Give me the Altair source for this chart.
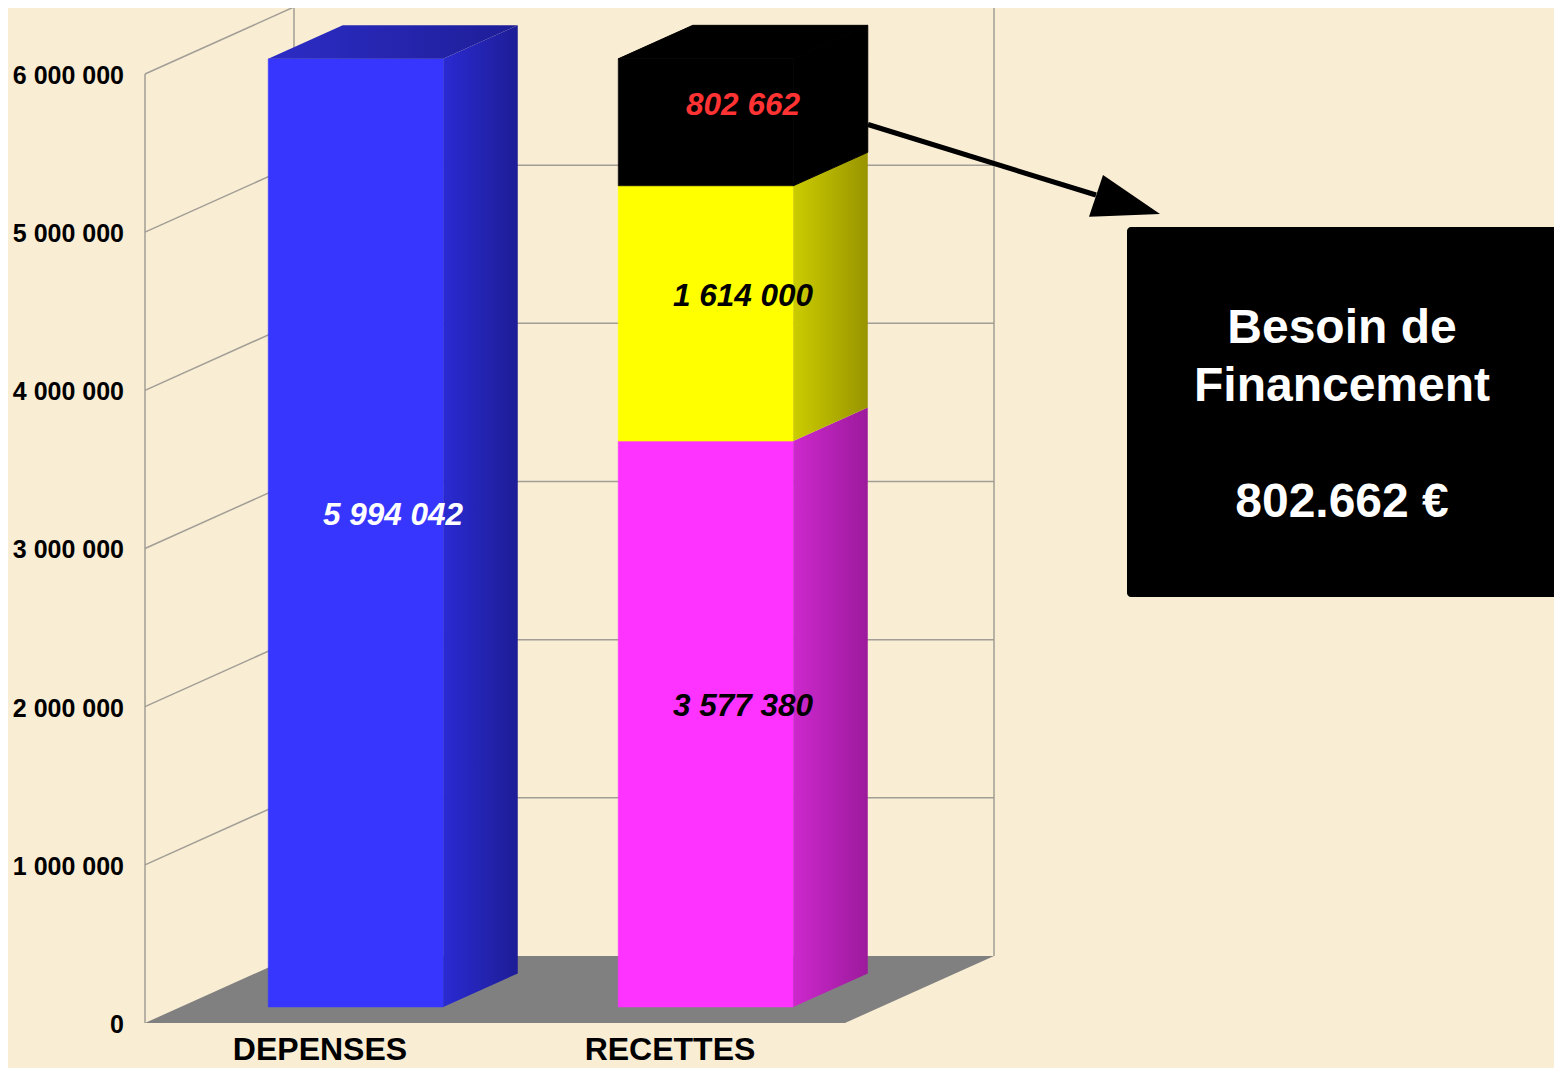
import altair as alt
import pandas as pd

# ---------------- data ----------------
categories = ["DEPENSES", "RECETTES"]
seg_category = ["DEPENSES", "RECETTES", "RECETTES", "RECETTES"]
seg_values = [5994042, 3577380, 1614000, 802662]
seg_front_colors = ["#3636FF", "#FF33FF", "#FFFF00", "#000000"]
seg_side_colors = [["#2A2AD2", "#1D1D96"], ["#CD28CD", "#9C1A9C"],
                   ["#CCCC00", "#989400"], ["#000000", "#000000"]]
seg_top_colors = [["#2C2CC6", "#1E1E98"], ["#CC22CC", "#9C1A9C"],
                  ["#CCCC00", "#989400"], ["#000000", "#000000"]]
seg_label_colors = ["#FFFFFF", "#000000", "#000000", "#FF3333"]
tick_values = [0, 1000000, 2000000, 3000000, 4000000, 5000000, 6000000]
tick_labels = ["0", "1 000 000", "2 000 000", "3 000 000", "4 000 000",
               "5 000 000", "6 000 000"]
callout_lines = ["Besoin de", "Financement", "802.662 €"]

# ---------------- layout ----------------
FONT = "Liberation Sans"
PX_PER_VAL = 158.17 / 1_000_000
PLOT_W, PLOT_H = 1409, 1015
Y_MAX = PLOT_H / PX_PER_VAL


def vy(px):
    """pixel height above the front floor edge -> value units"""
    return px / PX_PER_VAL


BAND, BAR_W = 350, 175
DEPTH_X, DEPTH_Y = 149, vy(67)
F_FRONT, F_BAR = 0.24, 0.5
WALL_W = 700
WALL_TOP = tick_values[-1]

xs = alt.Scale(domain=[0, PLOT_W], nice=False, zero=False)
ys = alt.Scale(domain=[0, Y_MAX], nice=False, zero=False)


def X(f):
    return alt.X(f, type="quantitative", scale=xs, axis=None)


def Y(f):
    return alt.Y(f, type="quantitative", scale=ys, axis=None)


def grad(c1, c2):
    if c1 == c2:
        return c1
    return alt.Gradient(gradient="linear",
                        stops=[alt.GradientStop(color=c1, offset=0),
                               alt.GradientStop(color=c2, offset=1)],
                        x1=0, x2=1, y1=0, y2=0)


layers = []

# ---- walls ----
wall_rows = [
    dict(x=0, y=0, x2=0, y2=WALL_TOP),
    dict(x=DEPTH_X, y=DEPTH_Y, x2=DEPTH_X, y2=WALL_TOP + DEPTH_Y),
    dict(x=DEPTH_X + WALL_W, y=DEPTH_Y, x2=DEPTH_X + WALL_W, y2=WALL_TOP + DEPTH_Y),
    dict(x=DEPTH_X, y=WALL_TOP + DEPTH_Y, x2=DEPTH_X + WALL_W, y2=WALL_TOP + DEPTH_Y),
]
for v in tick_values[1:]:
    wall_rows.append(dict(x=0, y=v, x2=DEPTH_X, y2=v + DEPTH_Y))
for v in tick_values[1:-1]:
    wall_rows.append(dict(x=DEPTH_X, y=v + DEPTH_Y, x2=DEPTH_X + WALL_W, y2=v + DEPTH_Y))
layers.append(
    alt.Chart(pd.DataFrame(wall_rows)).mark_rule(color="#A29E96", strokeWidth=1.5)
    .encode(x=X("x"), y=Y("y"), x2=alt.X2("x2"), y2=alt.Y2("y2"))
)

# ---- floor ----
floor = pd.DataFrame([dict(y=0, x=0, x2=WALL_W),
                      dict(y=DEPTH_Y, x=DEPTH_X, x2=DEPTH_X + WALL_W)])
layers.append(
    alt.Chart(floor).mark_area(orient="horizontal", color="#808080")
    .encode(y=Y("y"), x=X("x"), x2=alt.X2("x2"))
)

# ---- bars ----
base = F_FRONT * DEPTH_Y
bdx, bdy = F_BAR * DEPTH_X, F_BAR * DEPTH_Y
cum = {c: 0 for c in categories}
fronts, labels = [], []
seg_geo = []
for k, (cat, val) in enumerate(zip(seg_category, seg_values)):
    i = categories.index(cat)
    y0 = cum[cat]
    y1 = y0 + val
    cum[cat] = y1
    left = BAND * (i + 0.5) - BAR_W / 2 + F_FRONT * DEPTH_X
    right = left + BAR_W
    seg_geo.append((k, cat, left, right, y0, y1))
    fronts.append(dict(x=left, x2=right, y=base + y0, y2=base + y1,
                       color=seg_front_colors[k]))
    labels.append(dict(x=BAND * (i + 0.5) + (F_FRONT + F_BAR / 2) * DEPTH_X,
                       y=base + (y0 + y1) / 2 + (F_BAR / 2) * DEPTH_Y,
                       text=f"{val:,}".replace(",", " "),
                       color=seg_label_colors[k]))

layers.append(
    alt.Chart(pd.DataFrame(fronts)).mark_rect(strokeWidth=0.6)
    .encode(x=X("x"), x2=alt.X2("x2"), y=Y("y"), y2=alt.Y2("y2"),
            color=alt.Color("color:N", scale=None),
            stroke=alt.Stroke("color:N", scale=None))
)

for k, cat, left, right, y0, y1 in seg_geo:
    side = pd.DataFrame([dict(x=right, y=base + y0, y2=base + y1),
                         dict(x=right + bdx, y=base + y0 + bdy, y2=base + y1 + bdy)])
    c1, c2 = seg_side_colors[k]
    props = dict(orient="vertical", color=grad(c1, c2))
    if c1 == c2:
        props.update(stroke=c1, strokeWidth=1)
    layers.append(
        alt.Chart(side).mark_area(**props)
        .encode(x=X("x"), y=Y("y"), y2=alt.Y2("y2"))
    )
    if y1 == cum[cat]:  # top of the stack
        top = pd.DataFrame([dict(y=base + y1, x=left, x2=right),
                            dict(y=base + y1 + bdy, x=left + bdx, x2=right + bdx)])
        t1, t2 = seg_top_colors[k]
        tprops = dict(orient="horizontal", color=grad(t1, t2))
        if t1 == t2:
            tprops.update(stroke=t1, strokeWidth=1)
        layers.append(
            alt.Chart(top).mark_area(**tprops)
            .encode(y=Y("y"), x=X("x"), x2=alt.X2("x2"))
        )

layers.append(
    alt.Chart(pd.DataFrame(labels)).mark_text(
        font=FONT, fontSize=31.5, fontStyle="italic", fontWeight="bold",
        align="center", baseline="middle")
    .encode(x=X("x"), y=Y("y"), text="text:N", color=alt.Color("color:N", scale=None))
)

# ---- axis labels ----
ticks = pd.DataFrame(dict(x=[-21] * len(tick_values), y=tick_values, text=tick_labels))
layers.append(
    alt.Chart(ticks).mark_text(font=FONT, fontSize=25, fontWeight="bold",
                               align="right", baseline="middle", dy=2, color="#000000")
    .encode(x=X("x"), y=Y("y"), text="text:N")
)
cats = pd.DataFrame(dict(x=[BAND * (i + 0.5) for i in range(len(categories))],
                         y=[vy(-37)] * len(categories), text=categories))
layers.append(
    alt.Chart(cats).mark_text(font=FONT, fontSize=32, fontWeight="bold",
                              align="center", baseline="alphabetic", color="#000000")
    .encode(x=X("x"), y=Y("y"), text="text:N")
)

# ---- arrow ----
shaft = pd.DataFrame([dict(x=723, y=vy(898.5), x2=951, y2=vy(828))])
layers.append(
    alt.Chart(shaft).mark_rule(color="#000000", strokeWidth=5)
    .encode(x=X("x"), y=Y("y"), x2=alt.X2("x2"), y2=alt.Y2("y2"))
)
A, B, C = (944, 806.3), (958, 848), (1015, 809)
mid_bottom = A[1] + (C[1] - A[1]) * (B[0] - A[0]) / (C[0] - A[0])
head = pd.DataFrame([dict(x=A[0], y=vy(A[1]), y2=vy(A[1])),
                     dict(x=B[0], y=vy(B[1]), y2=vy(mid_bottom)),
                     dict(x=C[0], y=vy(C[1]), y2=vy(C[1]))])
layers.append(
    alt.Chart(head).mark_area(orient="vertical", color="#000000")
    .encode(x=X("x"), y=Y("y"), y2=alt.Y2("y2"))
)

# ---- callout box ----
box = pd.DataFrame([dict(x=982, x2=1413, y=vy(796), y2=vy(426))])
layers.append(
    alt.Chart(box).mark_rect(color="#000000", cornerRadius=4)
    .encode(x=X("x"), x2=alt.X2("x2"), y=Y("y"), y2=alt.Y2("y2"))
)
box_text = pd.DataFrame(dict(x=[1197] * 3, y=[vy(680), vy(622), vy(506)], text=callout_lines))
layers.append(
    alt.Chart(box_text).mark_text(font=FONT, fontSize=48, fontWeight="bold",
                                  align="center", baseline="alphabetic", color="#FFFFFF")
    .encode(x=X("x"), y=Y("y"), text="text:N")
)

chart = alt.layer(*layers).properties(
    width=PLOT_W, height=PLOT_H,
    autosize=alt.AutoSizeParams(type="none"),
    padding={"left": 137, "top": 0, "right": 0, "bottom": 45},
    background="#F9EDD4",
).configure_view(stroke=None)

chart.save("out.html", embed_options={"renderer": "svg", "actions": False})
